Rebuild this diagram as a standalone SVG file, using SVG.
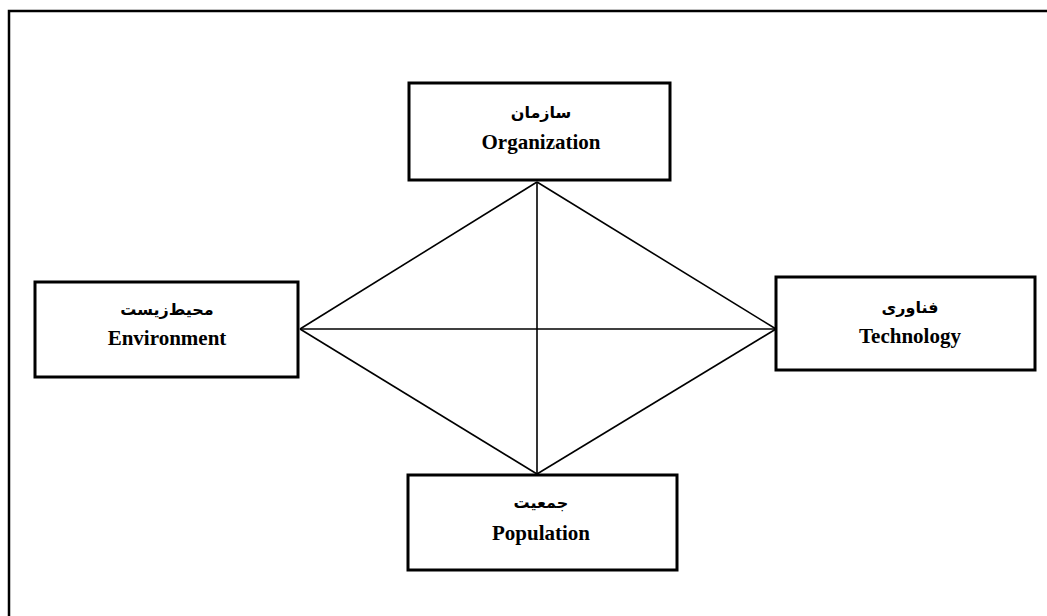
<svg xmlns="http://www.w3.org/2000/svg" width="1047" height="616" viewBox="0 0 1047 616">
<style>
.box{fill:#fff;stroke:#000;stroke-width:3}
.en{font-family:"Liberation Serif",serif;font-weight:bold;font-size:21px;text-anchor:middle;fill:#000}
.fa{font-family:"DejaVu Sans","Noto Sans",sans-serif;font-weight:bold;font-size:16px;text-anchor:middle;fill:#000}
.ln{stroke:#000;stroke-width:1.6;fill:none}
</style>
<rect x="0" y="0" width="1047" height="616" fill="#fff"/>
<rect x="9" y="11" width="1060" height="640" fill="none" stroke="#000" stroke-width="2.5"/>
<g id="connectors">
<line class="ln" x1="537" y1="182" x2="300" y2="329"/>
<line class="ln" x1="537" y1="182" x2="776" y2="329"/>
<line class="ln" x1="537" y1="182" x2="537" y2="474"/>
<line class="ln" x1="300" y1="329" x2="776" y2="329"/>
<line class="ln" x1="300" y1="329" x2="537" y2="474"/>
<line class="ln" x1="776" y1="329" x2="537" y2="474"/>
</g>
<g id="organization">
<rect class="box" x="409" y="83" width="261" height="97"/>
<text class="fa" x="541" y="118" direction="rtl">سازمان</text>
<text class="en" x="541" y="149">Organization</text>
</g>
<g id="environment">
<rect class="box" x="35" y="282" width="263" height="95"/>
<text class="fa" x="167" y="315" direction="rtl">محیط‌زیست</text>
<text class="en" x="167" y="345">Environment</text>
</g>
<g id="technology">
<rect class="box" x="776" y="277" width="259" height="93"/>
<text class="fa" x="910" y="313" direction="rtl">فناوری</text>
<text class="en" x="910" y="343">Technology</text>
</g>
<g id="population">
<rect class="box" x="408" y="475" width="269" height="95"/>
<text class="fa" x="541" y="508" direction="rtl">جمعیت</text>
<text class="en" x="541" y="540">Population</text>
</g>
</svg>
